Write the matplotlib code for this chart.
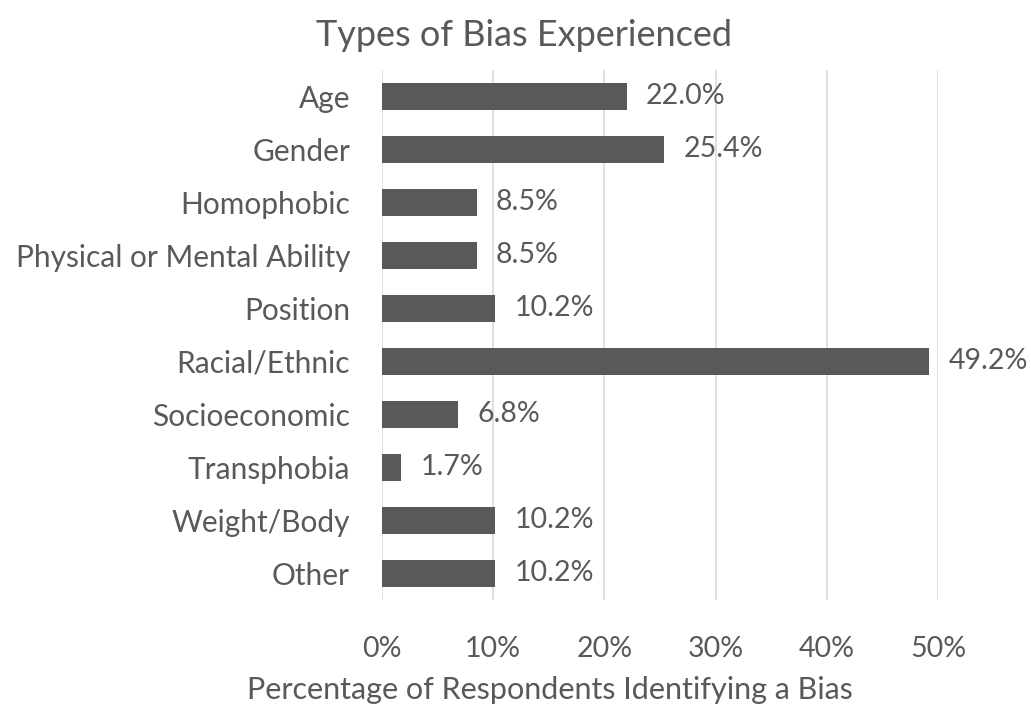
import numpy as np
import matplotlib.pyplot as plt

categories = ["Age", "Gender", "Homophobic", "Physical or Mental Ability", "Position",
              "Racial/Ethnic", "Socioeconomic", "Transphobia", "Weight/Body", "Other"]
values = [22.0, 25.4, 8.5, 8.5, 10.2, 49.2, 6.8, 1.7, 10.2, 10.2]
xticks = [0, 10, 20, 30, 40, 50]

plt.rcParams['font.family'] = ['Lato', 'DejaVu Sans']
grey = "#595959"

fig = plt.figure(figsize=(10.31, 7.04), dpi=100)
ax = fig.add_axes([0.3705, 0.148, 0.5393, 0.7526])

y = np.arange(len(categories))
ax.barh(y, values, height=0.5, color=grey, zorder=3)
for yi, v in zip(y, values):
    ax.annotate(f"{v:.1f}%", (v, yi), xytext=(14, 0), textcoords="offset points",
                va="center", ha="left", fontsize=20.5, color=grey, zorder=4,
                annotation_clip=False)

ax.set_ylim(len(categories) - 0.5, -0.5)
ax.set_xlim(0, 50)
ax.set_yticks(y)
ax.set_yticklabels(categories, fontsize=21.5, color=grey)
ax.set_xticks(xticks)
ax.set_xticklabels([f"{t}%" for t in xticks], fontsize=20.5, color=grey)
ax.tick_params(axis="x", length=0, pad=26)
ax.tick_params(axis="y", length=0, pad=23)
ax.grid(axis="x", color="#d9d9d9", linewidth=1.2, zorder=0)
for s in ax.spines.values():
    s.set_visible(False)

fig.text(0.533, 0.02, "Percentage of Respondents Identifying a Bias",
         fontsize=22, color=grey, ha="center", va="center")
fig.text(0.508, 0.950, "Types of Bias Experienced",
         fontsize=26, color=grey, ha="center", va="center")

fig.savefig("out.png", dpi=100)
